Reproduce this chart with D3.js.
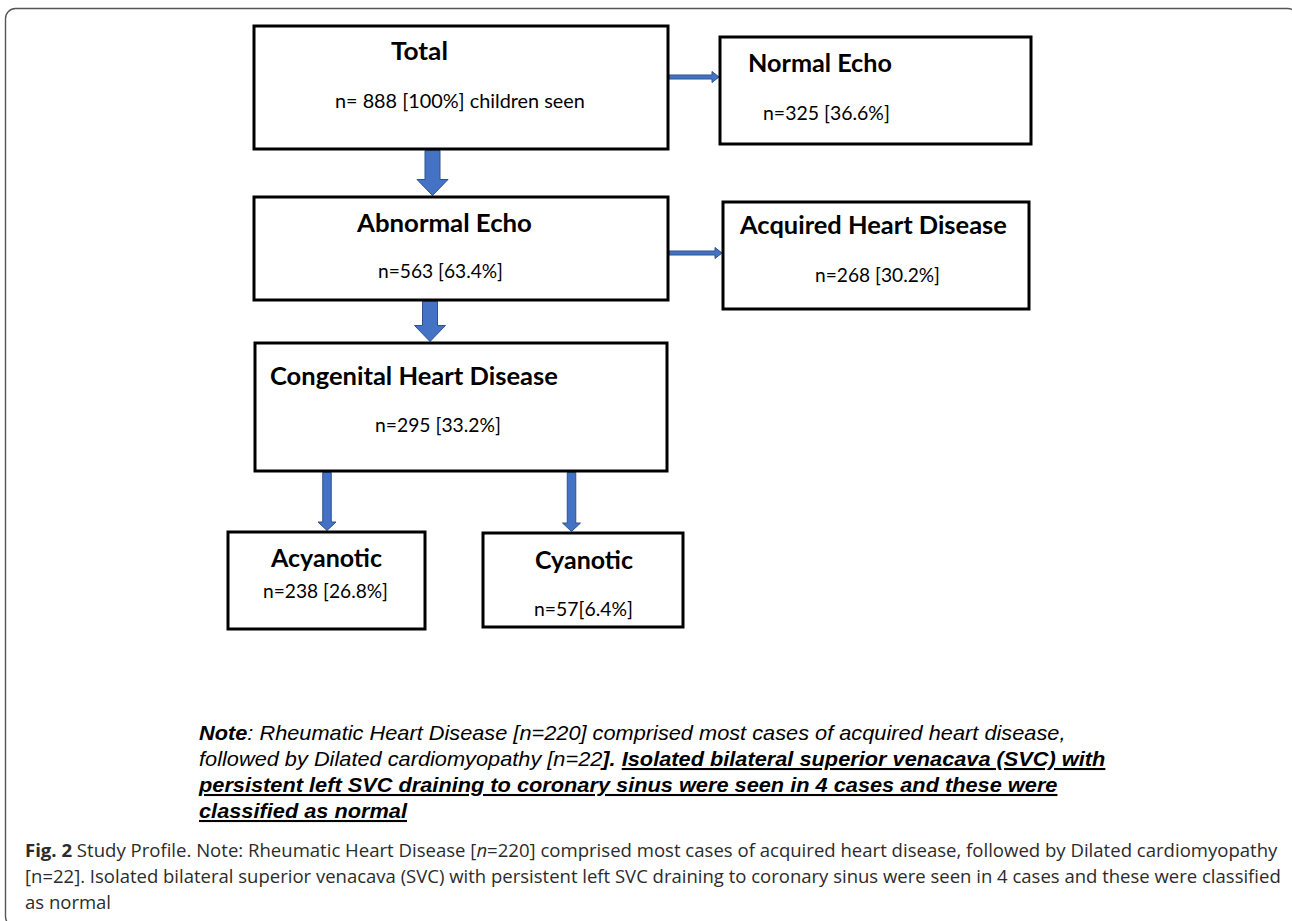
<!DOCTYPE html>
<html>
<head>
<meta charset="utf-8">
<script src="https://cdn.jsdelivr.net/npm/d3@7/dist/d3.min.js"></script>
<style>
  html, body { margin: 0; padding: 0; background: #fff; }
  svg { display: block; }
</style>
</head>
<body>
<svg id="chart" width="1292" height="921"></svg>
<script>
// ---------------- DATA ----------------
const nodeTitles   = ["Total", "Normal Echo", "Abnormal Echo", "Acquired Heart Disease",
                      "Congenital Heart Disease", "Acyanotic", "Cyanotic"];
const nodeCounts   = [888, 325, 563, 268, 295, 238, 57];
const nodePercents = ["100%", "36.6%", "63.4%", "30.2%", "33.2%", "26.8%", "6.4%"];
const nodeSubLabels = [
  "n= 888 [100%] children seen",
  "n=325 [36.6%]",
  "n=563 [63.4%]",
  "n=268 [30.2%]",
  "n=295 [33.2%]",
  "n=238 [26.8%]",
  "n=57[6.4%]"
];
// links: [source, target, kind]
const links = [[0, 1, "right"], [0, 2, "bigdown"], [2, 3, "right"], [2, 4, "bigdown"], [4, 5, "smalldown"], [4, 6, "smalldown"]];

const noteLines = [
  [{t: "Note", b: 1}, {t: ": Rheumatic Heart Disease [n=220] comprised most cases of acquired heart disease,"}],
  [{t: "followed by Dilated cardiomyopathy [n=22"}, {t: "]. ", b: 1}, {t: "Isolated bilateral superior venacava (SVC) with", b: 1, u: 1}],
  [{t: "persistent left SVC draining to coronary sinus were seen in 4 cases and these were", b: 1, u: 1}],
  [{t: "classified as normal", b: 1, u: 1}]
];
const captionLines = [
  [{t: "Fig. 2", b: 1}, {t: " Study Profile. Note: Rheumatic Heart Disease ["}, {t: "n", i: 1}, {t: "=220] comprised most cases of acquired heart disease, followed by Dilated cardiomyopathy"}],
  [{t: "[n=22]. Isolated bilateral superior venacava (SVC) with persistent left SVC draining to coronary sinus were seen in 4 cases and these were classified"}],
  [{t: "as normal"}]
];

// ---------------- LAYOUT ----------------
const boxes = [
  {x0: 254, y0: 26,  x1: 668, y1: 149},
  {x0: 720, y0: 37,  x1: 1031, y1: 144},
  {x0: 254, y0: 197, x1: 668, y1: 300},
  {x0: 723, y0: 202, x1: 1029, y1: 309},
  {x0: 255, y0: 343, x1: 667, y1: 471},
  {x0: 228, y0: 532, x1: 425, y1: 629},
  {x0: 483, y0: 533, x1: 683, y1: 627}
];
// text placement: [startX, endX, baseline]
const titlePos = [[391, 448, 60], [748, 892, 72], [357, 532, 232], [740, 1007, 234], [270, 558, 385], [271, 382, 567], [535, 633, 569]];
const subPos   = [[335, 585, 108], [763, 890, 120], [378, 503, 278], [815, 940, 282], [375, 501, 432], [263, 388, 598], [534, 633, 616]];
// arrow anchors (x for vertical, y for horizontal)
const arrowAnchor = [77, 432.5, 253, 430, 327, 571.5];
const arrowStyle = {
  right:     {shaft: 4,  head: 11, len: 7},
  bigdown:   {shaft: 15, head: 31, len: 16},
  smalldown: {shaft: 8.5, head: 18, len: 8.5}
};

const svg = d3.select("#chart");
const FONT = "Lato, 'Open Sans', 'Noto Sans', sans-serif";

// outer frame
svg.append("rect")
  .attr("x", 5.5).attr("y", 8.5).attr("width", 1292).attr("height", 918)
  .attr("rx", 10).attr("ry", 10)
  .attr("fill", "none").attr("stroke", "#555").attr("stroke-width", 1.4);

// helper: fit text horizontally between start and end
function fitText(sel, x0, x1, y) {
  const node = sel.node();
  const w = node.getComputedTextLength();
  const sx = (x1 - x0) / w;
  sel.attr("transform", `translate(${x0},${y}) scale(${sx},1)`);
  return sx;
}

// arrows
const arrowColor = "#4472C4", arrowStroke = "#2F528F";
function arrowPoints(kind, a, b, anchor) {
  const s = arrowStyle[kind];
  if (kind === "right") {
    const x0 = a.x1 + 1, x1 = b.x0 - 1, y = anchor;
    return [[x0, y - s.shaft / 2], [x1 - s.len, y - s.shaft / 2], [x1 - s.len, y - s.head / 2], [x1, y],
            [x1 - s.len, y + s.head / 2], [x1 - s.len, y + s.shaft / 2], [x0, y + s.shaft / 2]];
  } else {
    const y0 = a.y1 + 1.5, y1 = b.y0 - 1.5, x = anchor;
    return [[x - s.shaft / 2, y0], [x + s.shaft / 2, y0], [x + s.shaft / 2, y1 - s.len], [x + s.head / 2, y1 - s.len],
            [x, y1], [x - s.head / 2, y1 - s.len], [x - s.shaft / 2, y1 - s.len]];
  }
}
svg.append("g").selectAll("polygon").data(links).join("polygon")
  .attr("points", (d, i) => arrowPoints(d[2], boxes[d[0]], boxes[d[1]], arrowAnchor[i]).map(p => p.join(",")).join(" "))
  .attr("fill", arrowColor).attr("stroke", arrowStroke).attr("stroke-width", 1);

// boxes
const nodes = nodeTitles.map((t, i) => ({title: t, count: nodeCounts[i], pct: nodePercents[i], sub: nodeSubLabels[i], box: boxes[i]}));
const g = svg.append("g");
g.selectAll("rect").data(nodes).join("rect")
  .attr("x", d => d.box.x0).attr("y", d => d.box.y0)
  .attr("width", d => d.box.x1 - d.box.x0).attr("height", d => d.box.y1 - d.box.y0)
  .attr("fill", "#fff").attr("stroke", "#000").attr("stroke-width", 3);

g.selectAll("text.title").data(nodes).join("text").attr("class", "title")
  .attr("font-family", FONT).attr("font-weight", 700).attr("font-size", 24).attr("fill", "#000")
  .text(d => d.title)
  .each(function (d, i) { fitText(d3.select(this), titlePos[i][0], titlePos[i][1], titlePos[i][2]); });

g.selectAll("text.sub").data(nodes).join("text").attr("class", "sub")
  .attr("font-family", FONT).attr("font-weight", 400).attr("font-size", 19).attr("fill", "#000")
  .text(d => d.sub)
  .each(function (d, i) { fitText(d3.select(this), subPos[i][0], subPos[i][1], subPos[i][2]); });

// note
const noteX = 199, noteEnds = [1066, 1106, 1058, null], noteBase = [740, 766, 792, 818];
let lastSx = 0.82;
noteLines.forEach((segs, li) => {
  const t = svg.append("text")
    .attr("font-family", "'Liberation Sans', Arial, sans-serif")
    .attr("font-size", 21).attr("font-style", "italic").attr("fill", "#000");
  segs.forEach(s => {
    t.append("tspan").text(s.t)
      .attr("font-weight", s.b ? 700 : 400)
      .attr("text-decoration", s.u ? "underline" : null);
  });
  if (noteEnds[li] !== null) {
    lastSx = fitText(t, noteX, noteEnds[li], noteBase[li]);
  } else {
    t.attr("transform", `translate(${noteX},${noteBase[li]}) scale(${lastSx},1)`);
  }
});

// caption
const capX = 25, capEnds = [1279, 1281, null], capBase = [857, 883, 909];
let capSx = 0.85;
captionLines.forEach((segs, li) => {
  const t = svg.append("text")
    .attr("font-family", "'Open Sans', 'Noto Sans', sans-serif")
    .attr("font-size", 18.5).attr("fill", "#2b2b2b");
  segs.forEach(s => {
    t.append("tspan").text(s.t)
      .attr("font-weight", s.b ? 700 : 400)
      .attr("font-style", s.i ? "italic" : null);
  });
  if (capEnds[li] !== null) {
    capSx = fitText(t, capX, capEnds[li], capBase[li]);
  } else {
    t.attr("transform", `translate(${capX},${capBase[li]}) scale(${capSx},1)`);
  }
});
</script>
</body>
</html>
